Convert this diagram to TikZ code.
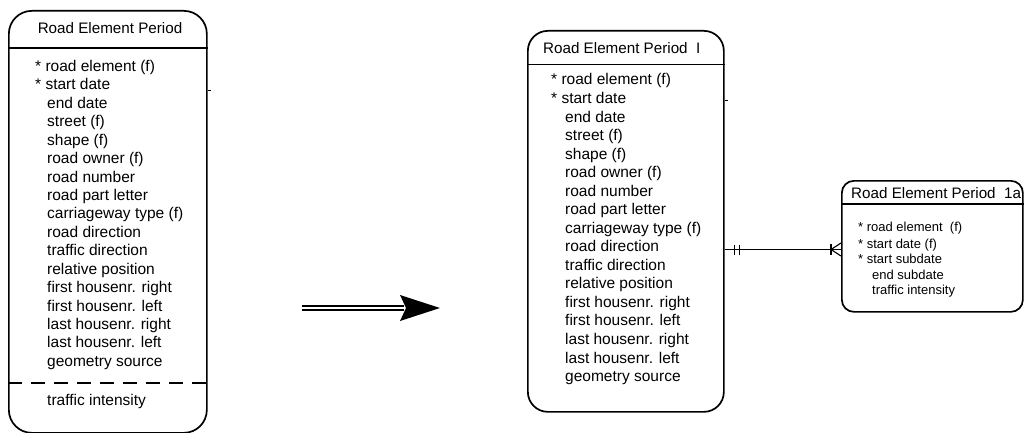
\documentclass[tikz,border=0pt]{standalone}
\usepackage{fontspec}
\setmainfont{Liberation Sans}
\usetikzlibrary{calc}
\tikzset{
  entity/.style={draw, line width=1.7pt, rectangle, inner sep=0pt, anchor=north west},
  sepline/.style={line width=1.7pt},
  attr/.style={anchor=base west, inner sep=0pt, font=\fontsize{15.5}{18}\selectfont},
  attrsmall/.style={anchor=base west, inner sep=0pt, font=\fontsize{13}{16}\selectfont},
  title/.style={inner sep=0pt, font=\fontsize{15.2}{18}\selectfont},
  conn/.style={line width=1.1pt},
  tick/.style={line width=1pt},
}
\begin{document}
\begin{tikzpicture}[x=1pt, y=-1pt]
\useasboundingbox (0,0) rectangle (1027,433);

% ---- entity boxes ----
\node[entity, rounded corners=23pt, minimum width=198pt, minimum height=422pt] (e1) at (8,10) {};
\node[entity, rounded corners=20pt, minimum width=196pt, minimum height=381pt] (e2) at (527,30) {};
\node[entity, rounded corners=12pt, minimum width=181pt, minimum height=131pt] (e3) at (841,180) {};

% header separators
\draw[sepline] (e1.west |- 0,48) -- (e1.east |- 0,48);
\draw[sepline] (e2.west |- 0,64.5) -- (e2.east |- 0,64.5);
\draw[sepline] (e3.west |- 0,204) -- (e3.east |- 0,204);
% derived-attribute separator
\draw[sepline, dash pattern=on 14pt off 9pt] (e1.west |- 0,383) -- (e1.east |- 0,383);

% small stubs on the right edges
\draw[tick] (e1.east |- 0,91) -- ++(3,0);
\draw[tick] (e2.east |- 0,101) -- ++(3,0);

% ---- titles ----
\node[title, anchor=base] (t1) at (110,34) {Road Element Period};
\node[title, anchor=base west] (t2) at (543,54) {Road Element Period~~I};
\node[title, anchor=base west] (t3) at (851,198) {Road Element Period~~1a};

% ---- attributes: left entity ----
\node[attr] (a1) at (35,71.5) {* road element (f)};
\node[attr] (a2) at (35,90) {* start date};
\foreach [count=\i] \t in {end date, street (f), shape (f), road owner (f),
    road number, road part letter, carriageway type (f), road direction,
    traffic direction, relative position, first housenr. right,
    first housenr. left, last housenr. right, last housenr. left,
    geometry source}
  \node[attr] (b\i) at (47,{90+18.42*\i}) {\t};
\node[attr] (a3) at (47,405.7) {traffic intensity};

% ---- attributes: middle entity ----
\node[attr] (m1) at (551,85) {* road element (f)};
\node[attr] (m2) at (551,103.5) {* start date};
\foreach [count=\i] \t in {end date, street (f), shape (f), road owner (f),
    road number, road part letter, carriageway type (f), road direction,
    traffic direction, relative position, first housenr. right,
    first housenr. left, last housenr. right, last housenr. left,
    geometry source}
  \node[attr] (n\i) at (565,{103.5+18.54*\i}) {\t};

% ---- attributes: right entity ----
\node[attrsmall] (r1) at (858,231) {* road element~~(f)};
\node[attrsmall] (r2) at (858,248.3) {* start date (f)};
\node[attrsmall] (r3) at (858,263.5) {* start subdate};
\node[attrsmall] (r4) at (872,279) {end subdate};
\node[attrsmall] (r5) at (872,294.5) {traffic intensity};

% ---- relationship: one-and-only-one to one-or-many ----
\coordinate (p1) at (e2.east |- 0,249.5);
\coordinate (p2) at (e3.west |- 0,249.5);
\draw[conn] (p1) -- (p2);
\draw[conn] ($(p1)+(10,-5)$) -- ($(p1)+(10,5)$);
\draw[conn] ($(p1)+(14.5,-5)$) -- ($(p1)+(14.5,5)$);
\draw[conn] ($(p2)+(-10,-5.5)$) -- ($(p2)+(-10,5.5)$);
\draw[conn] ($(p2)+(0,-6.5)$) -- ($(p2)+(-10,0)$) -- ($(p2)+(0,6.5)$);

% ---- transformation arrow ----
\coordinate (s0) at (302,308);
\coordinate (s1) at (404,308);
\coordinate (s2) at (440,308);
\draw[line width=1.5pt, double distance=2.6pt] (s0) -- (s1);
\fill ($(s2)$) -- ($(s2)+(-40,-13)$) -- ($(s2)+(-34,0)$) -- ($(s2)+(-40,13)$) -- cycle;
\end{tikzpicture}
\end{document}
